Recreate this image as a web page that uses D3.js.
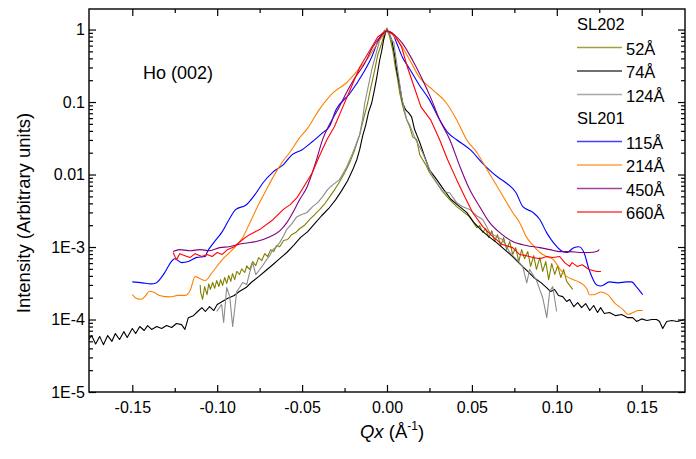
<!DOCTYPE html>
<html>
<head>
<meta charset="utf-8">
<script src="https://cdn.jsdelivr.net/npm/d3@7"></script>
<style>
  body { margin: 0; background: #fff; }
  svg { font-family: Arial, "Liberation Sans", sans-serif; }
</style>
</head>
<body>
<svg id="chart" width="696" height="459"></svg>
<script>
// Ho (002) transverse scans, intensity vs Qx, log scale.
// Values: [Qx (1/Å), intensity (arb.)]

const sl202_52 = [
  [-0.110, 3.0e-4], [-0.1098, 2.4e-4], [-0.1086, 1.9e-4], [-0.1074, 2.85e-4], [-0.106, 2.2e-4],
  [-0.105, 3.1e-4], [-0.104, 2.6e-4], [-0.1027, 3.25e-4], [-0.1015, 2.7e-4], [-0.1003, 3.45e-4],
  [-0.099, 2.85e-4], [-0.098, 3.55e-4], [-0.0968, 2.95e-4], [-0.0956, 3.8e-4], [-0.0944, 3.15e-4],
  [-0.0932, 4.05e-4], [-0.092, 3.35e-4], [-0.091, 4.3e-4], [-0.0897, 3.55e-4], [-0.0885, 4.6e-4],
  [-0.0868, 4.2e-4], [-0.0856, 5.0e-4], [-0.0838, 4.45e-4], [-0.0826, 5.5e-4], [-0.0809, 4.9e-4],
  [-0.0791, 6.3e-4], [-0.0773, 5.55e-4], [-0.0756, 7.15e-4], [-0.0738, 6.5e-4], [-0.072, 8.1e-4],
  [-0.0703, 7.4e-4], [-0.0685, 9.2e-4], [-0.0667, 8.65e-4], [-0.065, 1.05e-3], [-0.0632, 1.01e-3],
  [-0.0609, 1.23e-3], [-0.0585, 1.27e-3], [-0.0562, 1.48e-3], [-0.0538, 1.58e-3], [-0.0514, 1.8e-3],
  [-0.0485, 2.0e-3], [-0.0455, 2.4e-3], [-0.0426, 2.8e-3], [-0.0396, 3.3e-3], [-0.0367, 3.95e-3],
  [-0.0337, 4.95e-3], [-0.0308, 6.2e-3], [-0.0279, 7.95e-3], [-0.0249, 0.0106], [-0.022, 0.0145],
  [-0.019, 0.022], [-0.0161, 0.0353], [-0.0137, 0.0602], [-0.0114, 0.097], [-0.0096, 0.156],
  [-0.0072, 0.277], [-0.0055, 0.445], [-0.0031, 0.651], [-0.0014, 0.895], [0.0, 1.05],
  [0.0016, 0.788], [0.0034, 0.522], [0.0045, 0.345], [0.0063, 0.202], [0.0075, 0.133],
  [0.0098, 0.078], [0.0116, 0.0568], [0.0134, 0.0455], [0.0151, 0.0331], [0.0175, 0.0302],
  [0.0193, 0.0187], [0.021, 0.016], [0.0228, 0.0137], [0.0251, 0.0106], [0.0287, 0.008],
  [0.0328, 0.0058], [0.0369, 0.0045], [0.041, 0.0036], [0.0446, 0.0031], [0.0487, 0.0026],
  [0.051, 2.17e-3], [0.0528, 1.85e-3], [0.0546, 1.97e-3], [0.0564, 1.58e-3], [0.058, 1.8e-3],
  [0.060, 1.35e-3], [0.0617, 1.68e-3], [0.0634, 1.19e-3], [0.065, 1.48e-3], [0.067, 1.05e-3],
  [0.0687, 1.35e-3], [0.0705, 9.2e-4], [0.0723, 1.19e-3], [0.074, 7.9e-4], [0.0758, 9.8e-4],
  [0.0776, 6.3e-4], [0.0793, 9.2e-4], [0.081, 6.9e-4], [0.0829, 8.65e-4], [0.0846, 5.4e-4],
  [0.0864, 7.6e-4], [0.088, 4.9e-4], [0.090, 7.15e-4], [0.0917, 4.6e-4], [0.0935, 6.3e-4],
  [0.0952, 3.55e-4], [0.097, 5.9e-4], [0.0988, 4.2e-4], [0.1005, 5.55e-4], [0.1023, 3.8e-4],
  [0.104, 4.9e-4], [0.1058, 3.35e-4], [0.1076, 2.95e-4], [0.1094, 2.6e-4]
];

const sl202_74 = [
  [-0.1757, 5.3e-5], [-0.174, 6.0e-5], [-0.1716, 4.6e-5], [-0.1692, 5.85e-5], [-0.167, 4.5e-5],
  [-0.1645, 6.0e-5], [-0.162, 5.0e-5], [-0.160, 6.4e-5], [-0.1575, 5.3e-5], [-0.155, 6.8e-5],
  [-0.153, 5.65e-5], [-0.150, 7.5e-5], [-0.148, 6.4e-5], [-0.1456, 8.0e-5], [-0.143, 7.05e-5],
  [-0.141, 8.25e-5], [-0.1386, 7.3e-5], [-0.1356, 8.0e-5], [-0.1327, 7.5e-5], [-0.1298, 8.25e-5],
  [-0.1268, 7.75e-5], [-0.124, 8.8e-5], [-0.121, 8.5e-5], [-0.119, 7.3e-5], [-0.117, 1.06e-4],
  [-0.114, 1.13e-4], [-0.1115, 1.29e-4], [-0.109, 1.46e-4], [-0.107, 1.29e-4], [-0.1045, 1.51e-4],
  [-0.102, 1.33e-4], [-0.100, 1.61e-4], [-0.097, 1.77e-4], [-0.094, 1.95e-4], [-0.090, 2.14e-4],
  [-0.087, 2.43e-4], [-0.083, 2.76e-4], [-0.080, 3.24e-4], [-0.0756, 3.9e-4], [-0.0715, 4.7e-4],
  [-0.0673, 5.7e-4], [-0.0632, 6.9e-4], [-0.059, 8.4e-4], [-0.055, 1.05e-3], [-0.051, 1.35e-3],
  [-0.0467, 1.63e-3], [-0.0426, 2.1e-3], [-0.0385, 2.7e-3], [-0.0343, 3.4e-3], [-0.0302, 4.5e-3],
  [-0.0267, 6.0e-3], [-0.0232, 8.2e-3], [-0.0202, 0.0116], [-0.0178, 0.016], [-0.0161, 0.022],
  [-0.0143, 0.0343], [-0.0125, 0.0485], [-0.0108, 0.073], [-0.009, 0.097], [-0.0072, 0.156],
  [-0.006, 0.221], [-0.0043, 0.38], [-0.003, 0.522], [-0.002, 0.717], [-0.0008, 0.924],
  [0.0, 0.97], [0.001, 0.92], [0.0028, 0.717], [0.0045, 0.445], [0.0057, 0.277],
  [0.0075, 0.166], [0.0092, 0.097], [0.011, 0.078], [0.0128, 0.0707], [0.0145, 0.0624],
  [0.0163, 0.0414], [0.018, 0.0331], [0.0198, 0.0257], [0.0222, 0.0176], [0.025, 0.0116],
  [0.0293, 0.0085], [0.0334, 0.0062], [0.0375, 0.0046], [0.0422, 0.0037], [0.0469, 0.0030],
  [0.051, 0.0022], [0.0552, 1.74e-3], [0.0599, 1.39e-3], [0.0646, 1.15e-3], [0.0693, 9.2e-4],
  [0.074, 7.4e-4], [0.0787, 5.7e-4], [0.0829, 4.6e-4], [0.087, 3.7e-4], [0.0905, 3.25e-4],
  [0.094, 2.76e-4], [0.0964, 2.43e-4], [0.0987, 2.6e-4], [0.101, 2.14e-4], [0.1035, 2.07e-4],
  [0.1058, 1.77e-4], [0.1076, 1.89e-4], [0.110, 1.5e-4], [0.1123, 1.71e-4], [0.1146, 1.46e-4],
  [0.117, 1.66e-4], [0.1194, 1.33e-4], [0.1217, 1.56e-4], [0.124, 1.25e-4], [0.1258, 1.46e-4],
  [0.128, 1.21e-4], [0.131, 1.25e-4], [0.1347, 1.13e-4], [0.1382, 1.17e-4], [0.1418, 1.06e-4],
  [0.1447, 1.06e-4], [0.147, 9.4e-5], [0.150, 1.02e-4], [0.153, 9.7e-5], [0.156, 1.0e-4],
  [0.1588, 1.0e-4], [0.1605, 9.4e-5], [0.1624, 7.5e-5], [0.1647, 9.4e-5], [0.1677, 9.7e-5],
  [0.171, 9.4e-5], [0.1753, 1.0e-4]
];

const sl202_124 = [
  [-0.1003, 1.29e-4], [-0.0974, 1.61e-4], [-0.0962, 9.1e-5], [-0.0944, 2.76e-4], [-0.0926, 2.07e-4],
  [-0.0909, 8.0e-5], [-0.0885, 2.43e-4], [-0.0868, 2.76e-4], [-0.085, 3.24e-4], [-0.0826, 3.04e-4],
  [-0.0809, 4.44e-4], [-0.0791, 6.1e-4], [-0.0773, 4.17e-4], [-0.075, 4.9e-4], [-0.0732, 5.55e-4],
  [-0.0709, 6.7e-4], [-0.0691, 7.6e-4], [-0.0673, 9.2e-4], [-0.065, 1.01e-3], [-0.0632, 1.15e-3],
  [-0.0609, 1.43e-3], [-0.0591, 1.74e-3], [-0.056, 2.1e-3], [-0.0532, 2.6e-3], [-0.0503, 2.8e-3],
  [-0.0473, 2.97e-3], [-0.0438, 3.6e-3], [-0.0408, 4.1e-3], [-0.0379, 4.95e-3], [-0.035, 6.2e-3],
  [-0.032, 7.2e-3], [-0.0279, 8.5e-3], [-0.0237, 0.0128], [-0.0202, 0.0199], [-0.0161, 0.0353],
  [-0.0143, 0.060], [-0.0131, 0.097], [-0.009, 0.277], [-0.0043, 0.717], [-0.0014, 0.984],
  [0.0, 0.924], [0.001, 0.895], [0.0028, 0.717], [0.004, 0.67], [0.0057, 0.345],
  [0.0086, 0.117], [0.0116, 0.0568], [0.0134, 0.048], [0.017, 0.030], [0.021, 0.0199],
  [0.0269, 0.0093], [0.0328, 0.0058], [0.0369, 0.0056], [0.041, 0.0041], [0.0446, 0.0036],
  [0.0487, 0.0033], [0.0528, 0.0027], [0.0564, 0.0024], [0.0605, 1.58e-3], [0.0646, 1.39e-3],
  [0.068, 1.27e-3], [0.0723, 8.4e-4], [0.0764, 6.7e-4], [0.0799, 5.4e-4], [0.0823, 3.2e-4],
  [0.084, 4.9e-4], [0.0858, 4.2e-4], [0.0881, 3.45e-4], [0.0899, 2.6e-4], [0.0917, 2.0e-4],
  [0.0941, 1.06e-4], [0.0958, 2.43e-4], [0.0976, 2.85e-4], [0.0999, 1.29e-4]
];

const sl201_115 = [
  [-0.150, 3.3e-4], [-0.144, 3.2e-4], [-0.139, 3.1e-4], [-0.136, 3.2e-4], [-0.131, 4.4e-4],
  [-0.127, 6.3e-4], [-0.125, 6.9e-4], [-0.121, 6.1e-4], [-0.117, 6.3e-4], [-0.112, 7.2e-4],
  [-0.107, 7.4e-4], [-0.106, 8.4e-4], [-0.102, 1.15e-3], [-0.097, 1.63e-3], [-0.093, 2.4e-3],
  [-0.089, 3.3e-3], [-0.083, 3.8e-3], [-0.077, 5.6e-3], [-0.073, 7.7e-3], [-0.067, 0.0109],
  [-0.061, 0.0137], [-0.056, 0.0187], [-0.050, 0.022], [-0.044, 0.0283], [-0.038, 0.0375],
  [-0.034, 0.0455], [-0.030, 0.078], [-0.022, 0.13], [-0.014, 0.251], [-0.009, 0.418],
  [-0.0055, 0.672], [-0.0025, 0.895], [0.0, 0.953], [0.003, 0.895], [0.0057, 0.651],
  [0.009, 0.418], [0.013, 0.295], [0.019, 0.172], [0.025, 0.107], [0.031, 0.057],
  [0.036, 0.0375], [0.041, 0.0302], [0.049, 0.022], [0.056, 0.0145], [0.065, 0.0093],
  [0.070, 0.0077], [0.076, 0.0056], [0.080, 0.0036], [0.086, 0.0030], [0.090, 0.0024],
  [0.094, 1.58e-3], [0.098, 1.15e-3], [0.1035, 8.65e-4], [0.106, 8.4e-4], [0.110, 9.8e-4],
  [0.113, 1.01e-3], [0.116, 8.4e-4], [0.119, 4.9e-4], [0.1235, 3.0e-4], [0.126, 2.9e-4],
  [0.131, 3.3e-4], [0.136, 3.2e-4], [0.141, 3.3e-4], [0.144, 3.3e-4], [0.147, 2.8e-4],
  [0.1506, 2.2e-4]
];

const sl201_214 = [
  [-0.150, 2.2e-4], [-0.1475, 1.95e-4], [-0.1445, 1.9e-4], [-0.142, 2.15e-4], [-0.140, 2.45e-4],
  [-0.137, 2.35e-4], [-0.134, 2.15e-4], [-0.128, 2.05e-4], [-0.123, 2.15e-4], [-0.119, 2.15e-4],
  [-0.116, 2.5e-4], [-0.113, 3.9e-4], [-0.110, 3.65e-4], [-0.107, 3.45e-4], [-0.103, 4.45e-4],
  [-0.097, 6.7e-4], [-0.091, 9.2e-4], [-0.085, 1.35e-3], [-0.081, 2.1e-3], [-0.076, 3.7e-3],
  [-0.071, 6.2e-3], [-0.066, 0.0102], [-0.0615, 0.015], [-0.057, 0.0206], [-0.0515, 0.032],
  [-0.0467, 0.0437], [-0.040, 0.078], [-0.032, 0.133], [-0.024, 0.183], [-0.017, 0.277],
  [-0.012, 0.38], [-0.007, 0.574], [-0.003, 0.788], [0.0, 0.95], [0.0034, 0.839],
  [0.0075, 0.651], [0.0134, 0.38], [0.019, 0.221], [0.027, 0.147], [0.035, 0.097],
  [0.041, 0.057], [0.047, 0.030], [0.053, 0.020], [0.059, 0.0116], [0.065, 0.0068],
  [0.0705, 0.0041], [0.074, 0.0030], [0.078, 0.0022], [0.082, 1.39e-3], [0.086, 1.05e-3],
  [0.090, 8.4e-4], [0.094, 7.4e-4], [0.098, 6.7e-4], [0.102, 4.9e-4], [0.106, 3.9e-4],
  [0.109, 3.6e-4], [0.113, 3.3e-4], [0.118, 2.6e-4], [0.119, 2.2e-4], [0.122, 2.2e-4],
  [0.126, 2.4e-4], [0.130, 2.2e-4], [0.134, 1.7e-4], [0.139, 1.37e-4], [0.142, 1.17e-4],
  [0.145, 1.25e-4], [0.148, 1.33e-4], [0.1506, 1.33e-4]
];

const sl201_450 = [
  [-0.126, 8.65e-4], [-0.122, 9.2e-4], [-0.116, 8.9e-4], [-0.110, 9.2e-4], [-0.1045, 8.9e-4],
  [-0.0985, 9.8e-4], [-0.093, 1.01e-3], [-0.085, 1.12e-3], [-0.077, 1.19e-3], [-0.069, 1.39e-3],
  [-0.063, 1.68e-3], [-0.059, 2.17e-3], [-0.0555, 2.97e-3], [-0.0515, 4.5e-3], [-0.047, 6.8e-3],
  [-0.044, 0.0106], [-0.041, 0.0176], [-0.038, 0.030], [-0.034, 0.0485], [-0.029, 0.078],
  [-0.024, 0.133], [-0.019, 0.214], [-0.013, 0.345], [-0.0084, 0.574], [-0.003, 0.839],
  [0.0, 0.953], [0.0045, 0.839], [0.009, 0.651], [0.015, 0.38], [0.021, 0.202],
  [0.0263, 0.107], [0.031, 0.0568], [0.037, 0.0302], [0.043, 0.0128], [0.0487, 0.0062],
  [0.0546, 0.0036], [0.0605, 0.00217], [0.0664, 0.00158], [0.074, 0.00119], [0.082, 1.05e-3],
  [0.090, 9.8e-4], [0.096, 9.2e-4], [0.102, 8.65e-4], [0.1076, 8.65e-4], [0.1135, 8.4e-4],
  [0.119, 8.4e-4], [0.1235, 8.65e-4], [0.125, 9.2e-4]
];

const sl201_660 = [
  [-0.126, 8.4e-4], [-0.124, 6.7e-4], [-0.122, 8.1e-4], [-0.119, 7.6e-4], [-0.116, 7.15e-4],
  [-0.113, 8.1e-4], [-0.109, 7.4e-4], [-0.106, 7.9e-4], [-0.103, 7.4e-4], [-0.100, 8.4e-4],
  [-0.097, 7.9e-4], [-0.094, 9.2e-4], [-0.090, 1.01e-3], [-0.085, 1.27e-3], [-0.081, 1.48e-3],
  [-0.075, 1.74e-3], [-0.067, 2.4e-3], [-0.061, 3.3e-3], [-0.057, 3.85e-3], [-0.053, 4.8e-3],
  [-0.050, 6.2e-3], [-0.044, 0.0106], [-0.040, 0.0176], [-0.0355, 0.030], [-0.031, 0.0455],
  [-0.026, 0.0857], [-0.021, 0.161], [-0.016, 0.304], [-0.010, 0.522], [-0.0055, 0.788],
  [-0.0014, 0.924], [0.0, 0.953], [0.0045, 0.839], [0.0086, 0.574], [0.012, 0.304],
  [0.016, 0.161], [0.020, 0.0857], [0.0257, 0.0568], [0.031, 0.0302], [0.0357, 0.016],
  [0.041, 0.0085], [0.0458, 0.00495], [0.0505, 0.00297], [0.0564, 0.00191], [0.0623, 0.00139],
  [0.068, 0.00108], [0.074, 9.8e-4], [0.078, 7.9e-4], [0.082, 7.6e-4], [0.086, 7.15e-4],
  [0.090, 6.9e-4], [0.094, 7.4e-4], [0.0976, 7.15e-4], [0.1017, 7.4e-4], [0.1046, 6.1e-4],
  [0.1076, 5.4e-4], [0.109, 6.1e-4], [0.112, 5.4e-4], [0.115, 5.7e-4], [0.119, 4.9e-4],
  [0.1235, 4.6e-4], [0.126, 4.6e-4]
];

const X_TICKS = [-0.15, -0.10, -0.05, 0, 0.05, 0.10, 0.15];
const X_MINOR = [-0.125, -0.075, -0.025, 0.025, 0.075, 0.125];
const Y_TICKS = [1e-5, 1e-4, 1e-3, 0.01, 0.1, 1];
const Y_LABELS = ["1E-5", "1E-4", "1E-3", "0.01", "0.1", "1"];

// legend rows: header or series
const LEGEND = [
  { head: "SL202" },
  { key: "52Å",  data: sl202_52 },
  { key: "74Å",  data: sl202_74 },
  { key: "124Å", data: sl202_124 },
  { head: "SL201" },
  { key: "115Å", data: sl201_115, smooth: true },
  { key: "214Å", data: sl201_214, smooth: true },
  { key: "450Å", data: sl201_450, smooth: true },
  { key: "660Å", data: sl201_660 },
];

const COLORS = {
  "52Å": "#808000", "74Å": "#000000", "124Å": "#8c8c8c",
  "115Å": "#0000ff", "214Å": "#ff8000", "450Å": "#800080", "660Å": "#ff0000",
};

// ---------------------------------------------------------------------------
const svg = d3.select("#chart");
const L = 89, R = 685, T = 9, B = 392;

const x = d3.scaleLinear().domain([-0.1755, 0.1755]).range([L, R]);
const y = d3.scaleLog().domain([1e-5, 1.92]).range([B, T]);

const yMinor = [];
for (let e = -5; e < 0; e++) {
  for (let k = 2; k <= 9; k++) yMinor.push(k * Math.pow(10, e));
}

// axes (ticks pointing inward)
function axisGroup(axis, tx, ty) {
  const g = svg.append("g").attr("transform", `translate(${tx},${ty})`).call(axis);
  g.select(".domain").remove();
  g.selectAll("line").attr("stroke", "#000").attr("stroke-width", 1.2);
  g.selectAll("text").attr("fill", "#000").attr("font-size", 16)
    .attr("font-family", "Arial, 'Liberation Sans', sans-serif");
  return g;
}

axisGroup(d3.axisBottom(x).tickValues(X_TICKS).tickSize(-7).tickPadding(10)
  .tickFormat((d) => d.toFixed(2)), 0, B);
axisGroup(d3.axisBottom(x).tickValues(X_MINOR).tickSize(-4).tickFormat(""), 0, B);
axisGroup(d3.axisTop(x).tickValues(X_TICKS).tickSize(-7).tickFormat(""), 0, T);
axisGroup(d3.axisTop(x).tickValues(X_MINOR).tickSize(-4).tickFormat(""), 0, T);

axisGroup(d3.axisLeft(y).tickValues(Y_TICKS).tickSize(-7).tickPadding(4)
  .tickFormat((d, i) => Y_LABELS[i]), L, 0);
axisGroup(d3.axisLeft(y).tickValues(yMinor).tickSize(-4).tickFormat(""), L, 0);
axisGroup(d3.axisRight(y).tickValues(Y_TICKS).tickSize(-7).tickFormat(""), R, 0);
axisGroup(d3.axisRight(y).tickValues(yMinor).tickSize(-4).tickFormat(""), R, 0);

// curves
const line = d3.line().x((d) => x(d[0])).y((d) => y(d[1]));
const smoothLine = d3.line().x((d) => x(d[0])).y((d) => y(d[1])).curve(d3.curveMonotoneX);
svg.append("defs").append("clipPath").attr("id", "plot-clip")
  .append("rect").attr("x", L).attr("y", T).attr("width", R - L).attr("height", B - T);

const curves = svg.append("g").attr("clip-path", "url(#plot-clip)");
LEGEND.filter((r) => r.data).forEach((r) => {
  curves.append("path")
    .attr("d", (r.smooth ? smoothLine : line)(r.data))
    .attr("fill", "none")
    .attr("stroke", COLORS[r.key])
    .attr("stroke-width", 1.1)
    .attr("stroke-linejoin", "round");
});

// frame
svg.append("rect")
  .attr("x", L).attr("y", T).attr("width", R - L).attr("height", B - T)
  .attr("fill", "none").attr("stroke", "#000").attr("stroke-width", 1.4);

// annotation
svg.append("text").attr("x", 143).attr("y", 79).attr("font-size", 18).text("Ho (002)");

// legend
const leg = svg.append("g");
LEGEND.forEach((r, i) => {
  const cy = 24 + i * 23.5;
  if (r.head) {
    leg.append("text").attr("x", 577).attr("y", cy + 6).attr("font-size", 16.5).text(r.head);
    return;
  }
  leg.append("line").attr("x1", 577).attr("x2", 622).attr("y1", cy).attr("y2", cy)
    .attr("stroke", COLORS[r.key]).attr("stroke-width", 1.6).attr("stroke-opacity", 0.75);
  leg.append("text").attr("x", 626).attr("y", cy + 7).attr("font-size", 16.5).text(r.key);
});

// axis titles
svg.append("text")
  .attr("transform", "translate(30,213) rotate(-90)")
  .attr("text-anchor", "middle").attr("font-size", 18.5)
  .text("Intensity (Arbitrary units)");

const xt = svg.append("text").attr("x", 392).attr("y", 438)
  .attr("text-anchor", "middle").attr("font-size", 18.5);
xt.append("tspan").attr("font-style", "italic").text("Qx");
xt.append("tspan").text(" (Å");
xt.append("tspan").attr("font-size", 12).attr("dy", -8).text("-1");
xt.append("tspan").attr("dy", 8).text(")");
</script>
</body>
</html>
